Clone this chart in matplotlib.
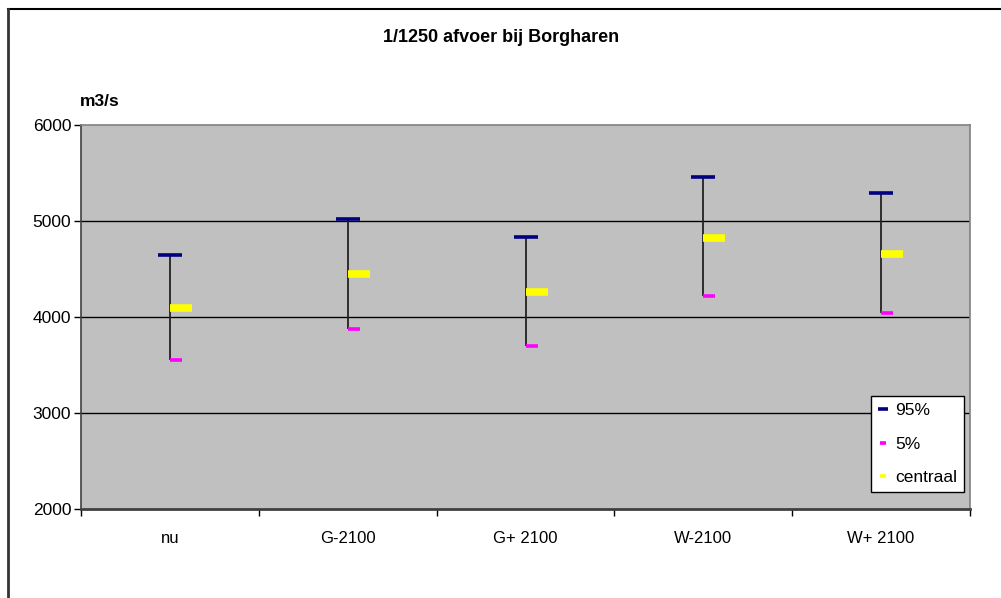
import numpy as np
import matplotlib.pyplot as plt
from matplotlib.lines import Line2D

plt.rcParams['font.family'] = ['Liberation Sans', 'DejaVu Sans']

categories = ['nu', 'G-2100', 'G+ 2100', 'W-2100', 'W+ 2100']
p95 = [4645, 5020, 4830, 5460, 5290]
p5 = [3550, 3870, 3700, 4215, 4045]
centraal = [4095, 4450, 4265, 4825, 4660]

fig = plt.figure(figsize=(10.01, 5.98), dpi=100)
fig.patch.set_facecolor('white')

# outer chart frame: only top and left edges visible
fig.add_artist(Line2D([8 / 1001, 1.0], [1 - 9 / 598] * 2, color='black', lw=1.5, transform=fig.transFigure))
fig.add_artist(Line2D([8 / 1001] * 2, [0, 1 - 9 / 598], color='#333333', lw=2, transform=fig.transFigure))

ax = fig.add_axes([81 / 1001, 89 / 598, 889 / 1001, 384 / 598])
ax.set_facecolor('#C0C0C0')
x = np.arange(len(categories))
ax.set_xlim(-0.5, len(categories) - 0.5)
ax.set_ylim(2000, 6000)

ax.set_yticks([2000, 3000, 4000, 5000, 6000])
for yv in [3000, 4000, 5000]:
    ax.axhline(yv, color='black', lw=1, zorder=1)

# high-low lines and markers
ax.vlines(x, p5, p95, color='#222222', lw=1.3, zorder=2)
hw = 12 / 177.8
ax.hlines(p95, x - hw, x + hw, color='#000080', lw=2.6, zorder=3)
ax.hlines(p5, x, x + hw, color='#FF00FF', lw=2.6, zorder=3)
ax.hlines(centraal, x, x + 22 / 177.8, color='#FFFF00', lw=5.5, zorder=3)

ax.set_xticks(np.arange(len(categories) + 1) - 0.5)
ax.set_xticklabels([])
ax.set_xticks(x, minor=True)
ax.set_xticklabels(categories, minor=True, fontsize=12)
ax.tick_params(axis='x', which='minor', length=0, pad=16)
ax.tick_params(axis='x', which='major', length=5, width=1, color='black', direction='out')
ax.tick_params(axis='y', length=5, width=1, color='black', direction='out', labelsize=12.5, pad=2)

for s in ['top', 'right']:
    ax.spines[s].set_color('#808080')
    ax.spines[s].set_linewidth(1.2)
ax.spines['left'].set_color('#404040')
ax.spines['bottom'].set_color('#404040')
ax.spines['bottom'].set_linewidth(2)
ax.spines['left'].set_linewidth(1.2)

fig.text(501 / 1001, 1 - 37 / 598, '1/1250 afvoer bij Borgharen', ha='center', va='center',
         fontsize=13, fontweight='bold')
fig.text(80 / 1001, 1 - 101 / 598, 'm3/s', ha='left', va='center', fontsize=12.5, fontweight='bold')

handles = [
    Line2D([], [], color='#000080', marker='_', ls='none', ms=7, mew=2.6),
    Line2D([], [], color='#FF00FF', marker='_', ls='none', ms=4, mew=2.6),
    Line2D([], [], color='#FFFF00', marker='_', ls='none', ms=4, mew=2.6),
]
leg = ax.legend(handles, ['95%', '5%', 'centraal'], loc='lower right',
                bbox_to_anchor=(964 / 1001, 106 / 598), bbox_transform=fig.transFigure,
                fontsize=12.5, frameon=True, fancybox=False, framealpha=1,
                edgecolor='black', handlelength=0.6, handletextpad=0.4,
                labelspacing=1.05, borderpad=0.4, borderaxespad=0)
leg.get_frame().set_linewidth(1)

fig.savefig('out.png', dpi=100)
